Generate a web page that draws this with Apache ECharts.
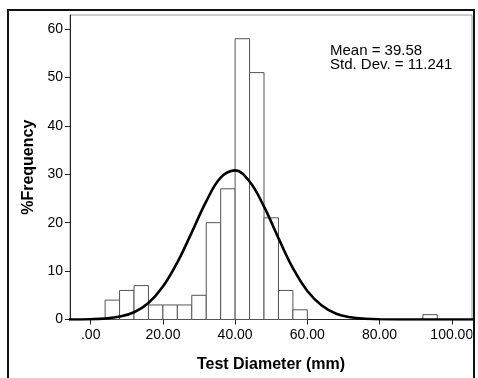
<!DOCTYPE html>
<html>
<head>
<meta charset="utf-8">
<title>Test Diameter histogram</title>
<script src="https://cdn.jsdelivr.net/npm/echarts@6/dist/echarts.min.js"></script>
<style>
  html, body { margin: 0; padding: 0; background: #fff; }
  #chart { width: 478px; height: 378px; }
</style>
</head>
<body>
<div id="chart"></div>
<script>
// histogram bins (start of each 4mm bin) and their heights
var binWidth = 4;
var binStart = [4, 8, 12, 16, 20, 24, 28, 32, 36, 40, 44, 48, 52, 56, 92];
var binPct = [4, 6, 7, 3, 3, 3, 5, 20, 27, 58, 51, 21, 6, 2, 1];

// fitted normal curve
var curveX = [-6, 0, 4, 8, 12, 16, 20, 24, 28, 32, 36, 40, 44, 48, 52, 56, 60, 64, 68, 72, 76, 80, 90, 100, 106];
var curveY = [0, 0.06, 0.2, 0.6, 1.5, 3.4, 6.8, 11.8, 18.0, 24.4, 29.3, 30.8, 28.5, 23.3, 16.8, 10.6, 5.9, 2.9, 1.2, 0.45, 0.15, 0.05, 0, 0, 0];

// tick labels
var xTicks = [0, 20, 40, 60, 80, 100];
var yTicks = [0, 10, 20, 30, 40, 50, 60];

var statsText = ['Mean = 39.58', 'Std. Dev. = 11.241'];

var font = 'Liberation Sans, Arial, sans-serif';

var bins = [];
for (var i = 0; i < binStart.length; i++) {
    bins.push([binStart[i], binStart[i] + binWidth, binPct[i]]);
}
var curve = [];
for (var j = 0; j < curveX.length; j++) {
    curve.push([curveX[j], curveY[j]]);
}

var myChart = echarts.init(document.getElementById('chart'), null, { renderer: 'canvas' });

var option = {
    backgroundColor: '#fff',
    animation: false,
    grid: {
        left: 70, top: 15, right: 6, bottom: 58.5,
        show: true, borderColor: '#999', borderWidth: 1, backgroundColor: '#fff'
    },
    xAxis: {
        type: 'value',
        min: -5.73, max: 105.6,
        name: 'Test Diameter (mm)',
        nameLocation: 'middle',
        nameGap: 37,
        nameTextStyle: { fontFamily: font, fontSize: 16, fontWeight: 'bold', color: '#000' },
        splitLine: { show: false },
        axisLine: { onZero: false, lineStyle: { color: '#222', width: 1 } },
        axisTick: { length: 5, customValues: xTicks, lineStyle: { color: '#222' } },
        axisLabel: {
            customValues: xTicks,
            margin: 9,
            fontFamily: font, fontSize: 14, color: '#000',
            formatter: function (v) { return v === 0 ? '.00' : v.toFixed(2); }
        }
    },
    yAxis: {
        type: 'value',
        min: 0, max: 62.9,
        name: '%Frequency',
        nameLocation: 'middle',
        nameGap: 32,
        nameTextStyle: { fontFamily: font, fontSize: 16, fontWeight: 'bold', color: '#000' },
        splitLine: { show: false },
        axisLine: { show: true, onZero: false, lineStyle: { color: '#222', width: 1 } },
        axisTick: { show: true, length: 5, customValues: yTicks, lineStyle: { color: '#222' } },
        axisLabel: {
            customValues: yTicks,
            margin: 7,
            fontFamily: font, fontSize: 14, color: '#000'
        }
    },
    series: [
        {
            type: 'custom',
            name: 'bins',
            data: bins,
            encode: { x: [0, 1], y: 2 },
            renderItem: function (params, api) {
                var p0 = api.coord([api.value(0), api.value(2)]);
                var p1 = api.coord([api.value(1), 0]);
                return {
                    type: 'rect',
                    shape: { x: p0[0], y: p0[1], width: p1[0] - p0[0], height: p1[1] - p0[1] },
                    style: { fill: '#fff', stroke: '#555', lineWidth: 1 }
                };
            },
            z: 2
        },
        {
            type: 'line',
            name: 'normal',
            data: curve,
            smooth: 0.4,
            showSymbol: false,
            lineStyle: { color: '#000', width: 2.6 },
            z: 3
        }
    ],
    graphic: [
        {
            type: 'rect', z: 90,
            shape: { x: 472.5, y: 322, width: 6, height: 56 },
            style: { fill: '#fff' }
        },
        {
            type: 'rect', z: 100,
            shape: { x: 8, y: 10, width: 466, height: 420 },
            style: { fill: null, stroke: '#111', lineWidth: 2 }
        },
        {
            type: 'text', z: 100, left: 330, top: 43,
            style: { text: statsText.join('\n'), fontFamily: font, fontSize: 15, lineHeight: 14, fill: '#000' }
        }
    ]
};
myChart.setOption(option);
</script>
</body>
</html>
